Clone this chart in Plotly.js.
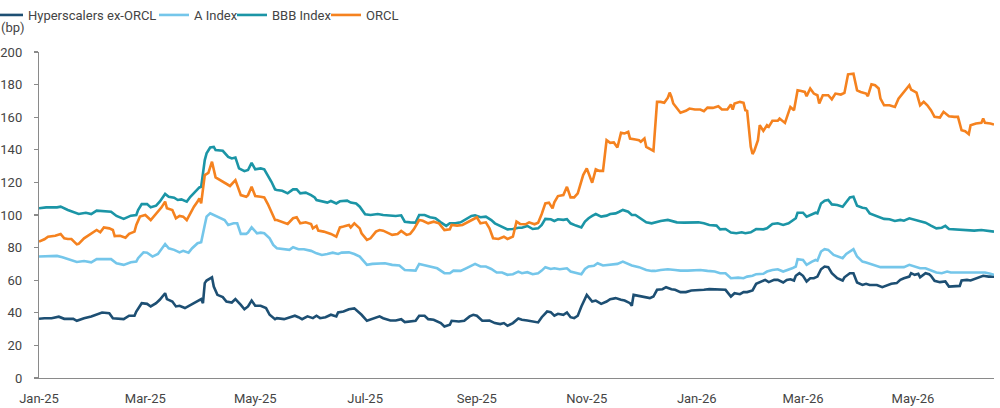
<!DOCTYPE html>
<html>
<head>
<meta charset="utf-8">
<script src="https://cdn.plot.ly/plotly-3.0.1.min.js"></script>
<style>
  html, body { margin: 0; padding: 0; background: #ffffff; }
  #chart { width: 1000px; height: 408px; }
</style>
</head>
<body>
<div id="chart"></div>
<script>
// Series names
const seriesNames = ["Hyperscalers ex-ORCL", "A Index", "BBB Index", "ORCL"];

// Days are counted from 2025-01-01; values are spreads in bp.
const hyperDays = [0,3,7,11,14,19,21,25,29,32,35,39,41,47,50,53,54,57,60,62,65,67,69,70,71,74,76,78,81,84,87,90,91,92,93,96,97,99,102,104,107,109,112,114,116,118,120,123,126,128,131,132,136,140,142,144,146,149,152,154,156,159,162,165,166,169,172,175,177,179,182,185,189,191,195,198,201,203,206,209,211,214,216,219,223,225,228,229,233,236,239,241,243,246,250,253,256,258,260,263,266,268,271,274,277,279,282,284,286,288,291,293,295,297,299,301,303,304,307,309,312,315,317,320,323,325,328,329,330,333,336,339,341,343,346,348,351,353,356,359,362,366,369,372,375,378,381,384,386,389,391,393,396,398,401,403,405,408,410,413,415,417,419,420,422,424,426,428,430,432,434,436,438,440,443,446,447,450,452,454,457,459,461,465,468,470,473,476,478,480,483,484,486,488,489,492,494,495,497,500,503,505,508,511,512,515,517,519,522,524,527,530];
const hyperVals = [36.3,36.7,36.7,37.6,36.3,36.3,35.1,36.7,37.8,38.8,40.2,39.8,36.7,36.1,38.2,38.2,40.8,45.9,45.5,43.9,45.9,48.0,51.0,52.0,48.4,46.9,43.9,44.3,42.9,44.9,46.9,48.4,45.9,58.2,59.8,61.8,56.1,51.0,49.6,46.9,46.3,48.4,44.9,42.2,43.9,47.5,44.3,44.3,42.9,38.8,36.1,36.7,36.1,37.8,38.2,37.3,36.1,37.8,36.7,38.2,36.7,37.3,38.8,37.8,40.2,40.8,42.2,42.7,40.8,38.8,35.1,36.1,37.8,36.7,35.3,35.3,36.1,34.3,34.7,35.1,38.2,38.2,36.1,35.7,33.7,31.6,32.7,35.1,34.7,35.1,37.8,38.8,38.2,35.1,35.3,33.7,33.1,33.7,32.0,33.7,36.5,35.7,35.3,34.7,34.1,37.3,40.8,40.4,38.2,39.4,38.8,40.2,37.3,36.7,38.2,43.9,48.4,51.0,46.9,47.5,45.5,46.9,48.4,49.0,48.0,47.5,45.9,44.3,51.0,50.4,50.0,49.0,50.0,54.1,54.5,55.7,54.5,54.1,52.7,52.7,53.7,53.7,54.1,54.5,54.5,54.1,54.1,50.0,52.0,51.4,52.7,52.7,53.7,57.8,59.2,60.2,58.8,60.2,60.2,58.6,60.2,60.6,59.8,62.7,64.3,62.7,59.2,61.2,61.2,62.2,66.7,68.4,68.0,64.3,61.2,59.8,61.8,64.3,64.3,58.6,57.1,57.8,57.1,57.1,55.7,56.7,57.8,58.2,60.2,61.2,62.2,64.3,63.3,63.9,61.8,64.3,63.7,62.7,59.6,58.8,59.2,56.1,56.1,56.5,59.8,60.2,59.8,60.6,61.8,62.7,62.2,62.2];

const aDays = [0,4,10,13,16,21,25,29,32,36,40,43,47,51,54,55,58,60,63,66,68,70,72,75,78,80,83,85,88,90,92,93,95,97,100,103,105,108,110,112,115,116,118,121,123,125,128,130,132,135,139,141,144,147,151,154,157,160,163,166,168,172,175,178,182,185,189,192,196,200,203,207,209,211,215,217,221,225,228,230,234,237,240,242,245,248,251,254,257,260,263,266,268,271,274,277,279,281,284,286,289,291,293,295,298,301,303,305,308,310,313,316,318,321,324,327,329,333,337,340,342,345,349,353,356,360,364,367,371,375,378,381,384,388,391,393,396,398,402,404,407,410,413,416,418,420,421,424,426,429,431,432,434,436,438,441,443,446,448,451,452,454,457,459,462,465,467,470,473,477,480,483,486,489,492,495,498,501,504,506,510,514,517,521,525,528,530];
const aVals = [74.5,74.5,74.9,74.1,72.9,71.2,71.8,71.0,72.9,73.1,72.9,70.4,69.4,71.0,71.4,73.5,77.1,76.9,74.5,76.1,79.0,82.2,79.6,78.6,77.1,78.0,76.9,79.6,82.7,83.3,93.9,99.0,101.0,100.0,98.6,96.9,93.9,94.9,94.9,88.4,88.4,89.2,92.4,88.8,89.2,88.8,85.7,81.6,79.6,79.2,78.6,80.2,79.0,79.0,78.0,76.5,75.5,76.1,76.9,76.1,76.9,77.1,76.1,74.5,69.4,70.0,70.4,70.4,69.4,69.0,66.3,65.9,65.9,70.0,69.0,68.4,67.3,64.3,64.3,65.9,65.7,67.3,69.0,70.0,68.4,68.4,66.9,64.7,64.7,63.3,63.7,65.3,64.3,64.9,63.7,64.3,65.9,68.0,66.9,67.3,66.7,66.9,67.3,65.3,64.3,63.7,66.9,68.4,68.8,70.4,69.0,69.4,70.0,70.0,71.4,70.0,69.0,68.0,66.3,65.7,65.7,66.3,66.7,66.3,65.9,65.9,66.3,66.3,65.7,65.3,64.3,64.3,61.2,61.6,61.2,62.2,62.7,63.7,63.9,65.3,66.3,66.7,65.3,66.3,67.3,68.4,72.9,72.4,69.4,71.4,72.4,72.0,77.6,79.0,78.6,75.5,74.5,73.5,76.1,78.6,79.0,74.5,71.4,70.8,69.8,68.8,68.0,68.0,68.0,68.4,68.0,69.4,68.4,67.3,67.3,65.9,64.7,64.3,65.3,64.7,64.7,64.9,64.9,64.9,64.7,63.9,63.3];

const bbbDays = [0,4,10,12,16,19,22,26,29,32,36,40,43,47,51,54,55,57,60,62,65,67,70,72,75,77,79,82,84,87,89,90,92,93,95,97,98,102,105,107,109,111,114,116,118,120,123,125,127,129,131,132,135,138,141,143,145,148,151,153,154,157,160,162,165,167,171,173,176,178,181,184,188,191,195,198,201,203,206,209,211,214,217,220,223,226,228,231,234,237,240,242,245,248,251,253,256,260,263,266,268,271,274,277,279,281,284,286,288,291,293,295,298,301,303,305,307,309,312,315,317,320,322,324,327,329,331,334,337,340,342,345,349,352,354,358,362,366,369,372,376,378,381,384,387,390,392,395,398,402,404,407,410,413,416,418,420,421,424,426,429,431,432,434,436,438,440,443,446,448,450,452,454,457,459,461,464,466,469,472,475,478,480,483,486,489,492,495,498,501,503,505,509,512,516,519,523,527,530];
const bbbVals = [104.1,104.7,104.7,105.1,103.1,101.8,100.6,101.4,100.6,102.7,102.4,102.0,99.4,97.6,99.6,100.0,103.1,106.7,106.7,104.7,105.7,108.2,112.9,111.2,110.6,109.2,109.6,108.2,111.2,114.9,116.9,117.3,133.7,137.8,141.4,141.8,139.8,139.4,135.7,134.7,135.3,128.6,126.9,127.6,132.0,128.0,128.6,128.0,124.5,120.4,115.7,115.3,114.9,113.3,115.7,115.7,113.3,113.7,112.2,110.8,109.2,108.2,107.6,108.6,107.1,108.4,108.8,107.6,107.1,105.1,100.4,100.0,100.6,100.0,99.6,99.4,99.8,95.9,95.5,95.3,100.0,100.0,98.6,98.0,95.5,93.3,94.9,94.9,95.5,97.3,99.4,99.8,98.6,99.0,96.9,94.9,93.5,91.2,91.4,92.2,92.2,93.3,91.4,91.8,93.9,97.6,97.4,96.3,97.4,97.0,97.4,94.9,93.5,92.4,95.9,98.0,99.4,100.6,99.0,99.6,100.6,101.0,102.0,103.1,102.0,100.0,100.0,98.0,95.5,94.9,95.5,96.3,97.0,95.9,95.5,95.3,95.5,95.5,94.9,93.9,93.5,91.2,91.4,89.2,88.8,89.4,88.8,89.4,91.4,91.2,91.8,94.5,94.9,93.9,94.9,96.3,98.0,101.4,101.4,99.0,100.6,101.4,101.0,107.1,108.8,109.2,106.5,106.1,105.1,108.2,110.8,111.2,105.7,104.5,104.1,101.0,99.6,98.6,97.6,97.4,96.3,97.0,96.5,98.0,97.0,95.9,95.3,93.5,91.8,92.2,93.3,91.4,91.2,90.8,90.8,90.4,90.8,90.4,89.8];

const orclDays = [0,3,5,9,12,14,16,18,21,22,25,28,30,32,34,36,39,41,42,45,48,50,53,54,56,59,62,64,66,68,70,71,74,76,78,80,82,84,86,88,89,90,92,94,95,96,98,101,104,106,109,112,115,116,118,120,123,125,127,129,131,132,135,138,141,143,145,148,151,152,154,155,158,162,165,167,169,172,173,175,178,179,182,184,187,189,191,193,196,199,201,204,206,208,211,213,216,219,222,225,228,229,232,235,238,241,243,245,248,250,252,255,258,260,263,265,267,270,272,275,277,279,281,283,285,286,288,291,293,295,297,299,302,304,307,309,311,313,315,317,319,321,323,325,327,328,331,333,334,336,337,339,341,343,345,347,349,350,351,352,354,356,359,361,364,367,369,371,374,377,379,382,384,385,386,389,391,392,393,394,395,396,397,399,400,402,404,405,407,410,411,414,416,417,419,421,423,425,426,428,430,432,433,435,438,440,442,445,447,449,452,454,456,459,460,462,464,466,467,469,472,475,477,479,480,483,484,487,489,491,493,495,497,500,502,504,505,508,510,512,514,516,517,520,523,524,525,528,530];
const orclVals = [83.7,85.1,86.7,87.3,88.4,85.7,85.3,85.3,82.0,82.3,85.7,87.8,89.6,90.8,89.4,92.4,91.8,90.8,87.1,87.3,86.1,88.4,89.8,93.9,99.0,100.0,96.9,99.6,102.0,104.7,108.2,104.1,103.1,98.0,99.4,99.0,96.9,101.4,105.1,108.2,110.2,107.1,124.5,125.9,129.2,132.7,123.1,121.0,119.0,117.8,121.4,112.2,111.2,112.2,117.3,111.6,111.2,110.8,106.7,102.0,96.9,96.9,95.9,94.5,98.0,98.6,94.9,95.5,94.5,91.8,93.3,90.4,89.8,88.4,86.7,92.4,92.9,93.9,92.4,94.9,91.8,88.8,84.7,85.7,89.8,90.8,90.4,89.2,87.8,88.4,90.2,87.8,88.4,91.2,96.9,96.5,94.9,95.9,94.9,90.8,91.2,93.9,93.5,93.9,95.9,97.4,98.6,94.9,95.5,91.8,85.7,85.3,86.7,85.3,86.7,95.9,94.5,94.3,95.5,94.3,95.3,100.6,107.1,107.6,104.1,107.8,111.6,112.2,117.3,110.8,110.8,113.3,124.5,128.6,119.8,128.0,127.1,127.1,145.9,144.3,144.5,141.4,150.4,150.0,151.0,146.9,146.3,145.9,144.9,146.9,141.8,140.8,139.4,169.4,169.4,168.8,172.0,175.1,172.4,168.4,165.3,162.7,163.9,165.3,164.7,164.7,163.7,165.9,165.7,166.7,164.7,164.7,167.8,164.7,168.4,169.4,168.8,164.3,163.9,151.0,141.8,137.4,139.4,145.9,155.1,151.6,155.1,154.1,157.8,157.8,159.2,156.5,162.2,166.3,164.3,176.5,176.1,175.5,172.9,177.6,174.5,173.5,168.4,173.5,173.5,171.0,174.5,173.9,174.9,186.3,186.7,176.5,175.5,174.5,172.9,180.2,179.6,177.6,171.4,167.3,167.3,166.3,171.4,174.1,175.5,179.6,176.9,175.1,167.3,169.4,167.3,164.3,160.2,159.8,163.3,161.8,160.6,160.2,160.2,152.0,151.4,149.6,155.1,156.1,156.5,159.2,156.5,156.1,155.5];

const seriesColors = ["#1d4f73", "#74c6ea", "#1b95a6", "#f5821f"];
const startDate = "2025-01-01";
const endDate = "2026-06-15";
const yTickVals = [0,20,40,60,80,100,120,140,160,180,200];
const unitLabel = "(bp)";

function dayToDate(d) {
  const base = Date.UTC(2025, 0, 1);
  return new Date(base + d * 86400000).toISOString().slice(0, 10);
}

const dayArrays = [hyperDays, aDays, bbbDays, orclDays];
const valArrays = [hyperVals, aVals, bbbVals, orclVals];
const legendIds = ["legend", "legend2", "legend3", "legend4"];
// left edge (container fraction) and entry indentation of each legend entry
const legendX = [0, 0.154, 0.232, 0.326];
const legendIndent = [-12, 0, 0, 0];

const FONT = "Roboto, 'Open Sans', 'DejaVu Sans', sans-serif";

const traces = seriesNames.map((name, i) => ({
  type: "scatter",
  mode: "lines",
  name: name,
  legend: legendIds[i],
  x: dayArrays[i].map(dayToDate),
  y: valArrays[i],
  line: { color: seriesColors[i], width: 2.6 },
  hoverinfo: "skip"
}));

function legendBox(x, indent) {
  return {
    visible: true,
    orientation: "h",
    xref: "container",
    yref: "container",
    x: x,
    y: 1,
    xanchor: "left",
    yanchor: "top",
    indentation: indent,
    font: { family: FONT, size: 13, color: "#444444" },
    itemwidth: 30,
    bgcolor: "rgba(0,0,0,0)"
  };
}

const layout = {
  width: 1000,
  height: 408,
  margin: { l: 39, r: 6, t: 52, b: 30, pad: 0 },
  paper_bgcolor: "#ffffff",
  plot_bgcolor: "#ffffff",
  font: { family: FONT, size: 13, color: "#444444" },
  showlegend: true,
  legend: legendBox(legendX[0], legendIndent[0]),
  legend2: legendBox(legendX[1], legendIndent[1]),
  legend3: legendBox(legendX[2], legendIndent[2]),
  legend4: legendBox(legendX[3], legendIndent[3]),
  xaxis: {
    type: "date",
    range: [startDate, endDate],
    tick0: startDate,
    dtick: "M2",
    tickformat: "%b-%y",
    showline: true,
    linecolor: "#8a8a8a",
    linewidth: 1.2,
    ticks: "",
    showgrid: false,
    zeroline: false,
    tickfont: { family: FONT, size: 13, color: "#444444" },
    ticklabelstandoff: 8
  },
  yaxis: {
    range: [0, 200],
    tickvals: yTickVals,
    showline: true,
    linecolor: "#8a8a8a",
    linewidth: 1.2,
    ticks: "outside",
    ticklen: 4,
    tickcolor: "#8a8a8a",
    tickwidth: 1.2,
    showgrid: false,
    zeroline: false,
    tickfont: { family: FONT, size: 13, color: "#444444" },
    ticklabelstandoff: 9
  },
  annotations: [{
    text: unitLabel,
    xref: "paper",
    yref: "paper",
    x: 0,
    y: 1,
    xanchor: "left",
    yanchor: "middle",
    xshift: -40,
    yshift: 25,
    showarrow: false,
    font: { family: FONT, size: 13, color: "#444444" }
  }]
};

Plotly.newPlot("chart", traces, layout, { displayModeBar: false, staticPlot: true });
</script>
</body>
</html>
